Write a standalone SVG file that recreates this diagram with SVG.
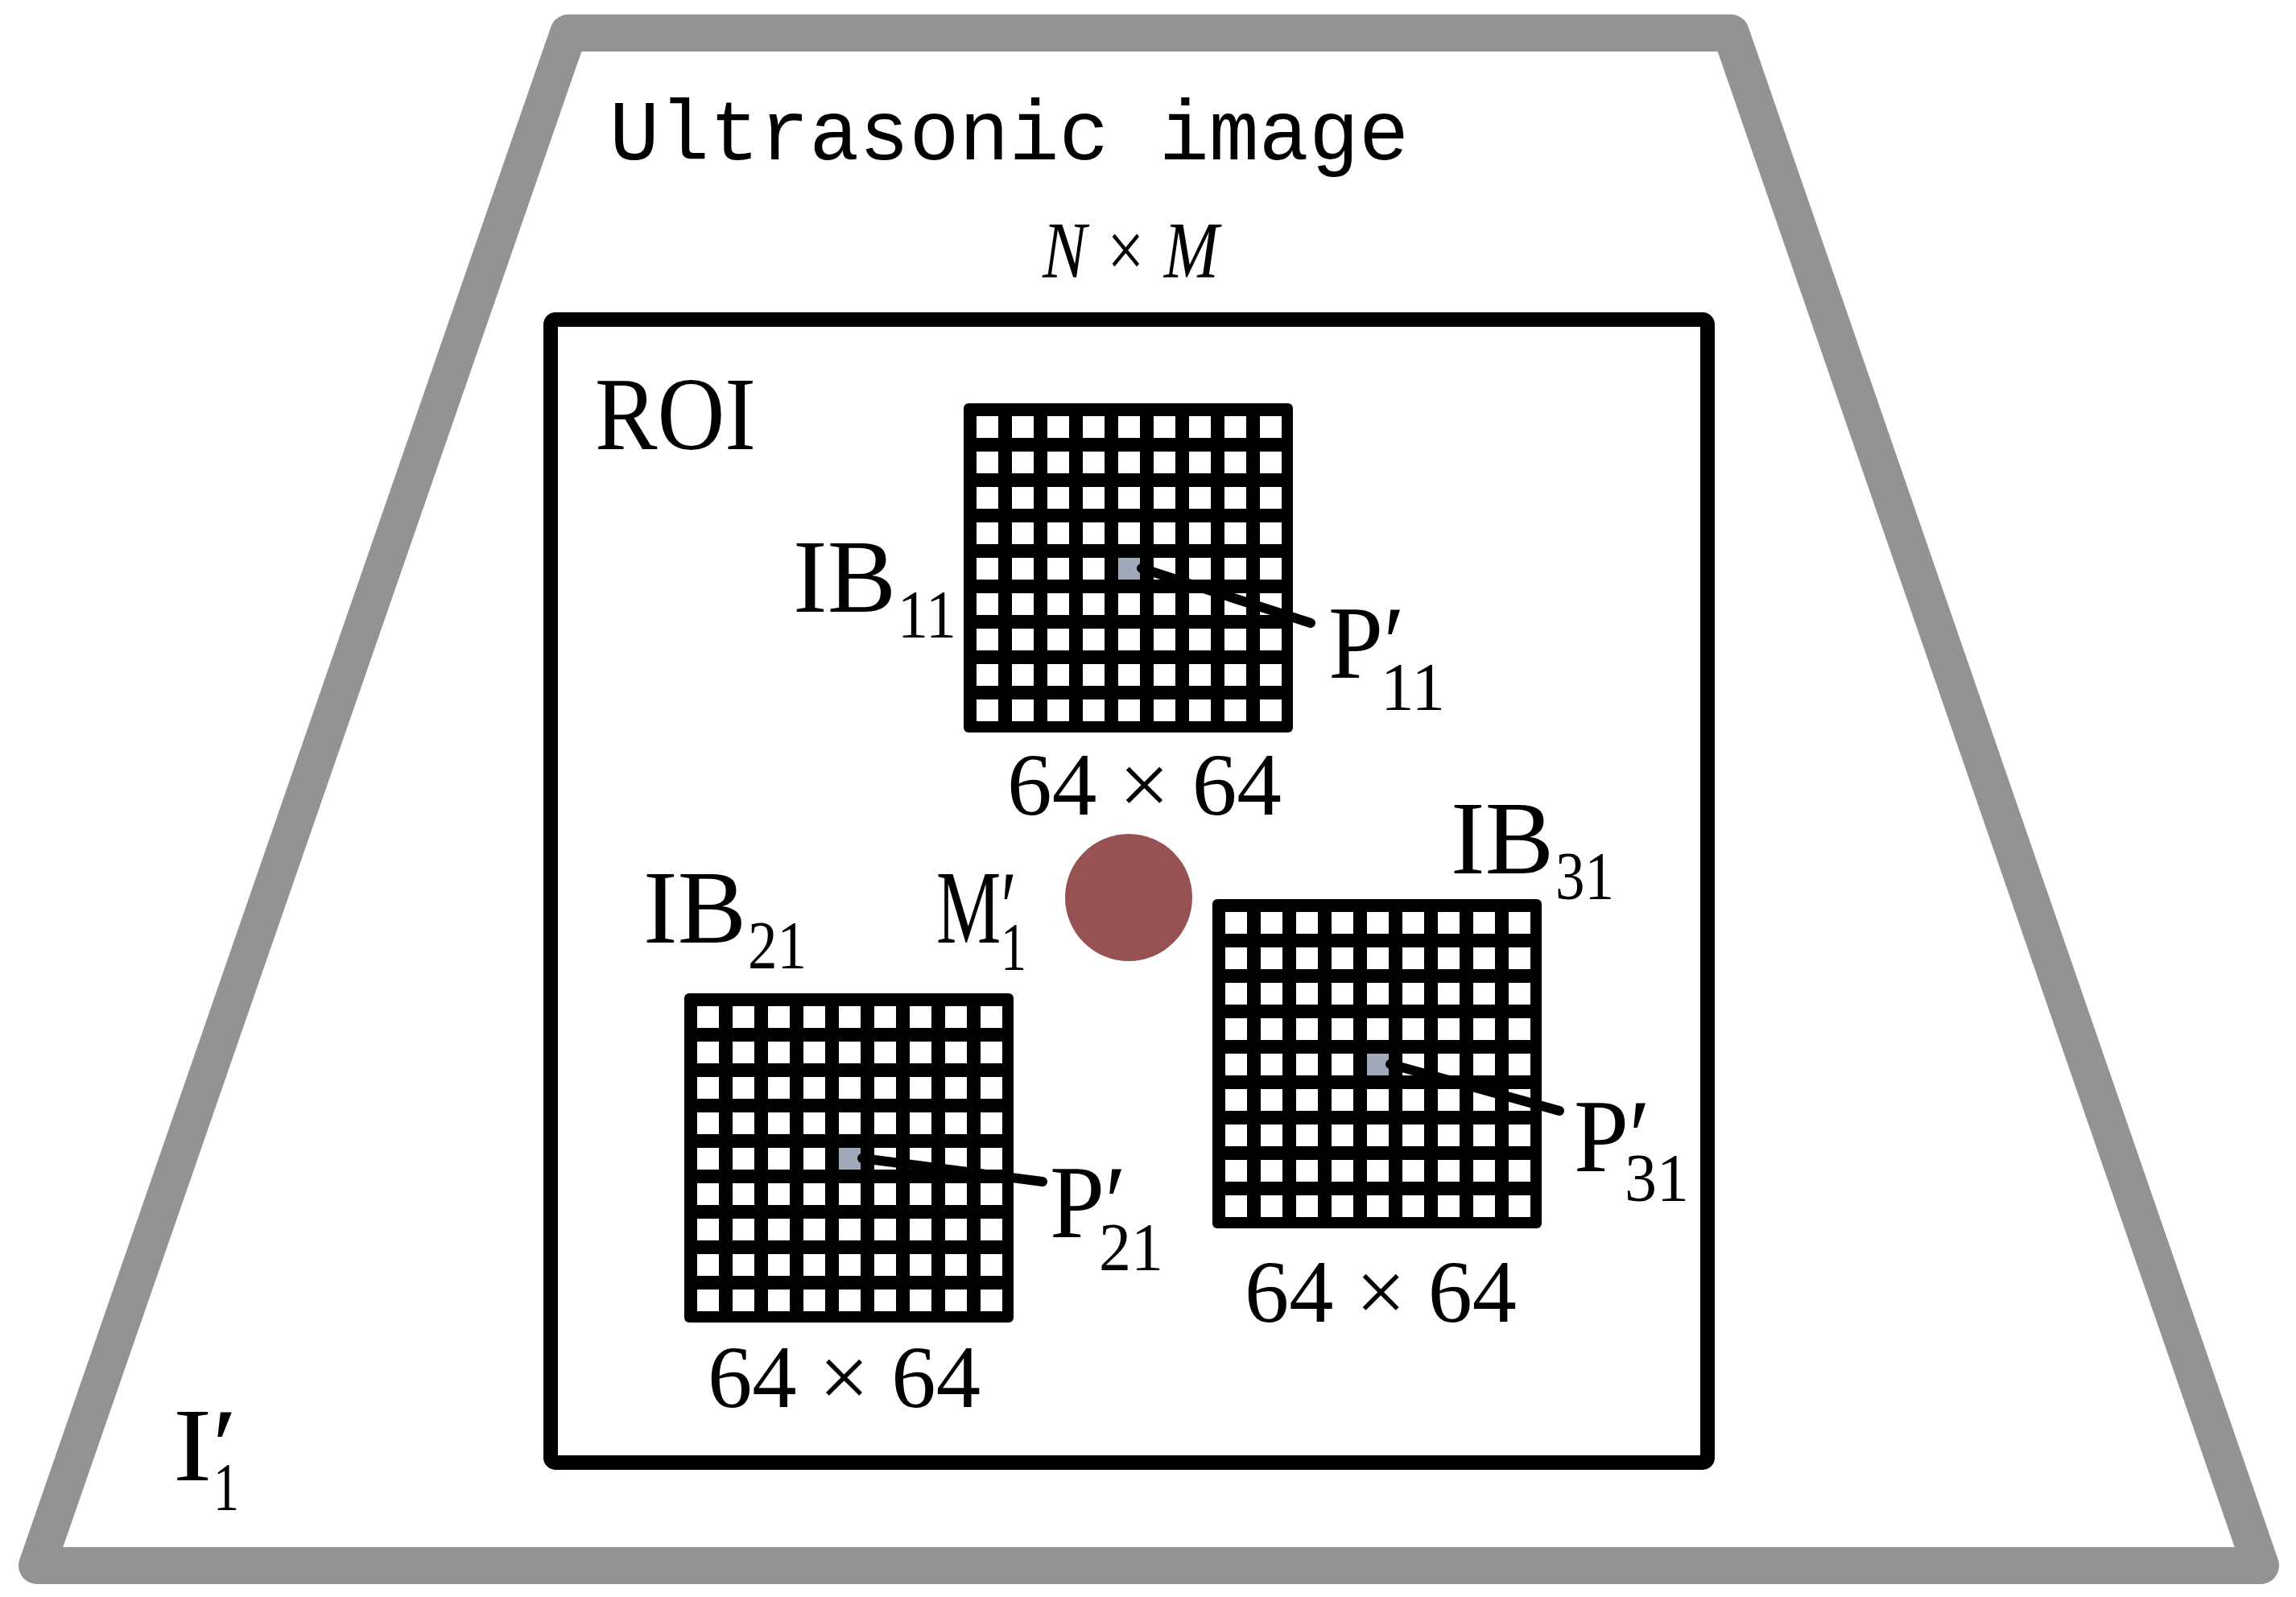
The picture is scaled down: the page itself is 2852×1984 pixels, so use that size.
<svg xmlns="http://www.w3.org/2000/svg" width="2852" height="1984" viewBox="0 0 2852 1984">
<defs>
<style>
text{font-family:"Liberation Serif",serif;fill:#000}
.big{font-size:130px}
.sub{font-size:84px}
.dim{font-size:110px}
.cell{fill:#fff}
.lead{stroke:#000;stroke-width:12;stroke-linecap:round}
</style>
<g id="row">
<rect class="cell" x="16" y="0" width="27" height="27"/><rect class="cell" x="60" y="0" width="27" height="27"/><rect class="cell" x="104" y="0" width="27" height="27"/><rect class="cell" x="148" y="0" width="27" height="27"/><rect class="cell" x="192" y="0" width="27" height="27"/><rect class="cell" x="236" y="0" width="27" height="27"/><rect class="cell" x="280" y="0" width="27" height="27"/><rect class="cell" x="324" y="0" width="27" height="27"/><rect class="cell" x="368" y="0" width="27" height="27"/>
</g>
<g id="grid">
<rect x="0" y="0" width="409" height="409" rx="6" fill="#000"/>
<use href="#row" y="16"/><use href="#row" y="60"/><use href="#row" y="104"/><use href="#row" y="148"/><use href="#row" y="192"/><use href="#row" y="236"/><use href="#row" y="280"/><use href="#row" y="324"/><use href="#row" y="368"/>
<rect x="192" y="192" width="27" height="27" fill="#a0aab8"/>
</g>
</defs>
<rect width="2852" height="1984" fill="#fff"/>
<g id="image">
<polygon points="706,41 2150,41 2808,1945 46,1945" fill="#fff" stroke="#939393" stroke-width="46" stroke-linejoin="round"/>
<text x="757" y="198" style="font-family:'Liberation Mono',monospace;font-size:106px" textLength="993" lengthAdjust="spacingAndGlyphs">Ultrasonic image</text>
<text x="1295" y="344" style="font-size:100px;font-style:italic" textLength="219" lengthAdjust="spacingAndGlyphs">N × M</text>
<text x="215" y="1839" class="big" textLength="80" lengthAdjust="spacingAndGlyphs">I′</text>
<text x="265" y="1876" class="sub" textLength="32" lengthAdjust="spacingAndGlyphs">1</text>
</g>
<g id="roi">
<rect x="684" y="397" width="1437" height="1420" rx="6" fill="none" stroke="#000" stroke-width="18"/>
<text x="739" y="558" class="big" textLength="200" lengthAdjust="spacingAndGlyphs">ROI</text>
</g>
<g id="IB11">
<use href="#grid" x="1197" y="501"/>
<text x="985" y="760" class="big" textLength="128" lengthAdjust="spacingAndGlyphs">IB</text>
<text x="1115" y="792" class="sub" textLength="73" lengthAdjust="spacingAndGlyphs">11</text>
<text x="1251" y="1012" class="dim" textLength="341" lengthAdjust="spacingAndGlyphs">64 × 64</text>
</g>
<g id="IB21">
<use href="#grid" x="850" y="1234"/>
<text x="799" y="1171" class="big" textLength="128" lengthAdjust="spacingAndGlyphs">IB</text>
<text x="929" y="1203" class="sub" textLength="73" lengthAdjust="spacingAndGlyphs">21</text>
<text x="879" y="1748" class="dim" textLength="339" lengthAdjust="spacingAndGlyphs">64 × 64</text>
</g>
<g id="IB31">
<use href="#grid" x="1506" y="1117"/>
<text x="1802" y="1085" class="big" textLength="128" lengthAdjust="spacingAndGlyphs">IB</text>
<text x="1932" y="1117" class="sub" textLength="73" lengthAdjust="spacingAndGlyphs">31</text>
<text x="1546" y="1642" class="dim" textLength="338" lengthAdjust="spacingAndGlyphs">64 × 64</text>
</g>
<g id="M1">
<circle cx="1402" cy="1115" r="79" fill="#965252"/>
<text x="1163" y="1171" class="big" textLength="100" lengthAdjust="spacingAndGlyphs">M′</text>
<text x="1243" y="1205" class="sub" textLength="32" lengthAdjust="spacingAndGlyphs">1</text>
</g>
<g id="P11">
<text x="1650" y="842" class="big" textLength="95" lengthAdjust="spacingAndGlyphs">P′</text>
<text x="1715" y="882" class="sub" textLength="80" lengthAdjust="spacingAndGlyphs">11</text>
</g>
<g id="P21">
<text x="1304" y="1537" class="big" textLength="95" lengthAdjust="spacingAndGlyphs">P′</text>
<text x="1365" y="1578" class="sub" textLength="80" lengthAdjust="spacingAndGlyphs">21</text>
</g>
<g id="P31">
<text x="1955" y="1455" class="big" textLength="95" lengthAdjust="spacingAndGlyphs">P′</text>
<text x="2018" y="1492" class="sub" textLength="80" lengthAdjust="spacingAndGlyphs">31</text>
</g>
<g id="connectors">
<line class="lead" x1="1418" y1="706" x2="1628" y2="774"/>
<line class="lead" x1="1071" y1="1439" x2="1295" y2="1468"/>
<line class="lead" x1="1727" y1="1322" x2="1937" y2="1380"/>
</g>
</svg>
